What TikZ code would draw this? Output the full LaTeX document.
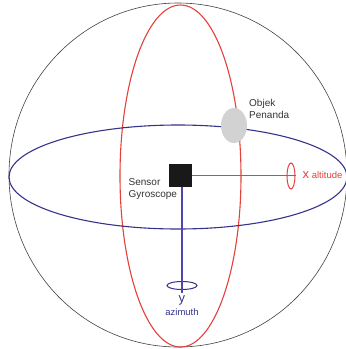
\documentclass[tikz,border=0pt]{standalone}
\usepackage{fontspec}
\setmainfont{Liberation Sans}
\usetikzlibrary{positioning,shapes.geometric}
\definecolor{GyroRed}{HTML}{E4403C}
\definecolor{GyroNavy}{HTML}{35338A}
\definecolor{GyroBlue}{HTML}{4E46AE}
\definecolor{GyroGrey}{HTML}{D2D2D2}
\definecolor{GyroText}{HTML}{333333}
\tikzset{
  sphere/.style={draw=black!75,line width=0.6pt},
  redring/.style={draw=GyroRed,line width=1.1pt},
  bluering/.style={draw=GyroNavy,line width=1.1pt},
  sensorbox/.style={fill=black!90,minimum size=23pt,inner sep=0pt},
  marker/.style={ellipse,fill=GyroGrey,minimum width=26pt,minimum height=35pt,inner sep=0pt},
  axisring/.style={ellipse,draw=#1,line width=1pt,inner sep=0pt},
  xaxis/.style={draw=GyroRed,line width=1pt},
  yaxis/.style={draw=GyroBlue,line width=1.2pt},
  lbl/.style={align=left,inner sep=0pt,text=GyroText,font=\fontsize{10}{12}\selectfont},
  axislbl/.style={inner sep=0pt,text=#1,font=\fontsize{9.5}{11}\selectfont}
}
\begin{document}
\begin{tikzpicture}[x=1pt,y=-1pt]
  \useasboundingbox (0,0) rectangle (346,349);
  % sphere and great circles
  \draw[sphere] (178,175) ellipse [x radius=169pt,y radius=172pt];
  \draw[redring] (180.5,176) ellipse [x radius=60.5pt,y radius=171pt];
  \draw[bluering] (178,177) ellipse [x radius=169pt,y radius=52pt];
  % objects
  \node[marker] (marker) at (234,125.5) {};
  \node[lbl,anchor=west] (markerlbl) at (249,109) {Objek\\Penanda};
  \node[sensorbox] (sensor) at (180.5,175.5) {};
  \node[lbl,anchor=west] (sensorlbl) at (128.5,189) {Sensor\\Gyroscope};
  \node[axisring=GyroRed,minimum width=8pt,minimum height=26pt] (xring) at (291,176) {};
  \node[axisring=GyroNavy,minimum width=30pt,minimum height=8pt] (yring) at (182,285.5) {};
  \coordinate (yend) at (182,293);
  \draw[xaxis] (sensor.east |- 0,175) -- (xring.east |- 0,175);
  \draw[yaxis] (sensor.south -| 182,0) -- (yend);
  % axis labels
  \node[axislbl=GyroRed,anchor=west] (xlbl) at (302.5,175.5) {{\fontsize{13}{13}\selectfont x} altitude};
  \node[axislbl=GyroNavy,font=\fontsize{13}{13}\selectfont] (ylbl) at (182,300.5) {y};
  \node[axislbl=GyroNavy,below=3pt of ylbl] (azlbl) {azimuth};
\end{tikzpicture}
\end{document}
